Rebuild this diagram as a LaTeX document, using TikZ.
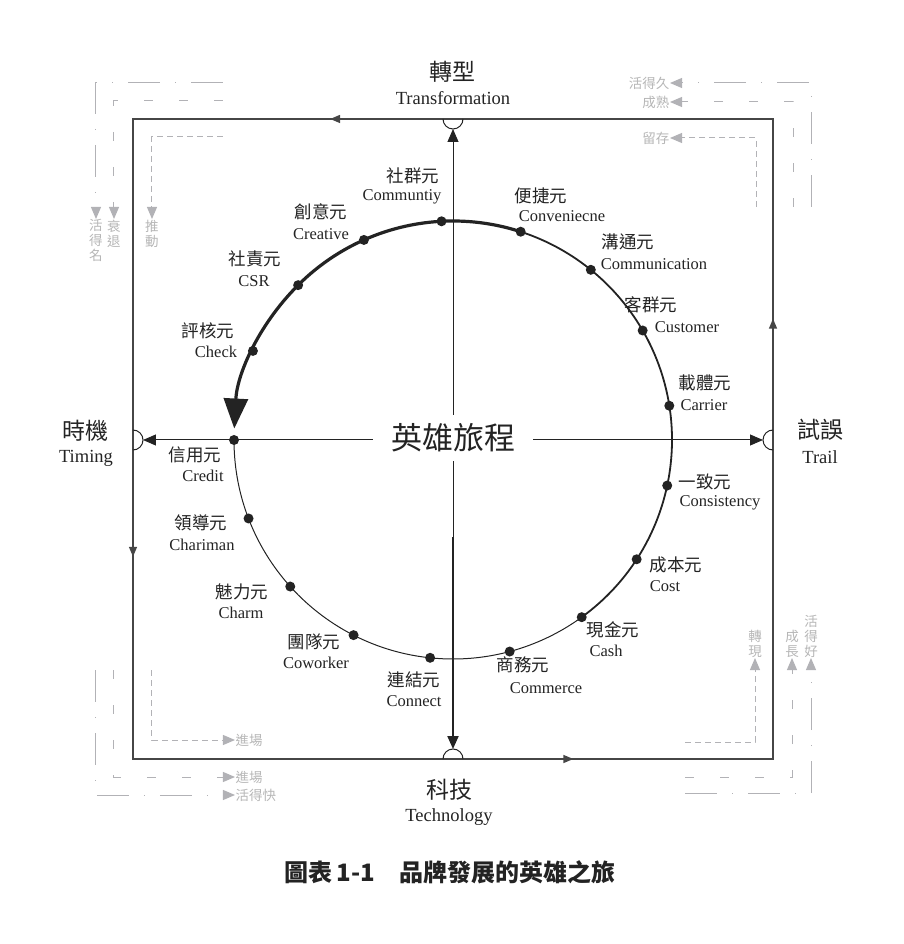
\documentclass[tikz,border=0pt]{standalone}
\usepackage{fontspec}
\setmainfont{Liberation Serif}
\newfontfamily\cjk{Noto Sans CJK TC}
\usetikzlibrary{arrows.meta,positioning,decorations.markings}
\definecolor{hjink}{RGB}{35,35,35}
\definecolor{hjframe}{RGB}{70,70,70}
\definecolor{hjgray}{RGB}{178,178,182}
\definecolor{hjtext}{RGB}{182,182,182}

\begin{document}
\begin{tikzpicture}[x=1pt, y=1pt, >={Triangle[length=13pt,width=11pt]},
  zh/.style={font=\cjk\fontsize{17.5}{18}\selectfont, inner sep=0pt, text=hjink},
  en/.style={font=\fontsize{16.5}{17}\selectfont, inner sep=0pt, text=hjink},
  axzh/.style={font=\cjk\fontsize{23}{24}\selectfont, inner sep=0pt, text=hjink},
  axen/.style={font=\fontsize{18.5}{19}\selectfont, inner sep=0pt, text=hjink},
  dot/.style={circle, fill=hjink, inner sep=0pt, minimum size=10pt},
  flow/.style={draw=hjgray, line width=1pt, -{Triangle[length=12pt,width=10pt]}},
  outerflow/.style={flow, dash pattern=on 32pt off 15pt on 1pt off 15pt},
  midflow/.style={flow, dash pattern=on 9pt off 26pt},
  innerflow/.style={flow, dash pattern=on 6pt off 4pt},
  gtag/.style={font=\cjk\fontsize{13.5}{15}\selectfont, text=hjtext,
    inner sep=0.5pt, align=center}]
\useasboundingbox (-453,440) rectangle (450,-504);

% frame with its four running arrows
\draw[hjframe, line width=1.5pt, postaction={decorate}, decoration={markings,
    mark=at position 0.173 with {\arrow{Triangle[length=10pt,width=8pt]}},
    mark=at position 0.421 with {\arrow{Triangle[length=10pt,width=8pt]}},
    mark=at position 0.672 with {\arrow{Triangle[length=10pt,width=8pt]}},
    mark=at position 0.922 with {\arrow{Triangle[length=10pt,width=8pt]}}}]
  (320,321) -- (-320,321) -- (-320,-319) -- (320,-319) -- cycle;

% half rings on the frame
\draw[hjink, line width=1pt] (-10,321) arc[start angle=180, end angle=360, radius=10];
\draw[hjink, line width=1pt] (-10,-319) arc[start angle=180, end angle=0, radius=10];
\draw[hjink, line width=1pt] (-320,-10) arc[start angle=-90, end angle=90, radius=10];
\draw[hjink, line width=1pt] (320,-10) arc[start angle=270, end angle=90, radius=10];
\coordinate (ringN) at (0,311);
\coordinate (ringS) at (0,-309);
\coordinate (ringW) at (-310,0);
\coordinate (ringE) at (310,0);

% the ring of elements
\draw[hjink, line width=1pt] (180:219) arc[start angle=180, end angle=306, radius=219];
\draw[hjink, line width=1.8pt] (-54:219) arc[start angle=-54, end angle=72, radius=219];
\draw[hjink, line width=3.2pt, -{Triangle[length=30pt,width=24pt]}]
  (72:219) arc[start angle=72, end angle=177, radius=219];

% centre and axes
\node[font=\cjk\fontsize{31}{32}\selectfont, text=hjink, fill=white,
  inner xsep=18pt, inner ysep=9pt] (hero) at (0,2) {英雄旅程};
\coordinate (stem) at (0,-97);
\draw[hjink, line width=1pt, ->] (hero.north) -- (ringN);
\draw[hjink, line width=1pt, ->] (hero.west |- ringW) -- (ringW);
\draw[hjink, line width=1pt, ->] (hero.east |- ringE) -- (ringE);
\draw[hjink, line width=1pt] (hero.south) -- (stem);
\draw[hjink, line width=2pt, ->] (stem) -- (ringS);

\node[axen] (transEn) at (0,342) {Transformation};
\node[axzh] (trans) at (-1,368) {轉型};
\node[axen] (timeEn) at (-367,-18) {Timing};
\node[axzh] (time) at (-367,9) {時機};
\node[axen] (trialEn) at (367,-17) {Trail};
\node[axzh] (trial) at (367,10) {試誤};
\node[axen] (techEn) at (-4,-377) {Technology};
\node[axzh] (tech) at (-4,-350) {科技};

% elements: angle / name / english / name pos / english pos
\foreach \a/\zhname/\enname/\zx/\zy/\ex/\ey [count=\i] in {
   93/社群元/Communtiy/-40/264/-51/243,
   72/便捷元/Conveniecne/88/244/109/224,
   51/溝通元/Communication/175/198/201/176,
   30/客群元/Customer/198/135/234/113,
    9/載體元/Carrier/252/57/251/35,
  -12/一致元/Consistency/252/-42/267/-63,
  -33/成本元/Cost/223/-125/212/-146,
  -54/現金元/Cash/160/-190/153/-211,
  -75/商務元/Commerce/70/-225/93/-248,
  -96/連結元/Connect/-39/-240/-39/-261,
 -117/團隊元/Coworker/-139/-202/-137/-223,
 -138/魅力元/Charm/-211/-152/-212/-173,
 -159/領導元/Chariman/-252/-83/-251/-105,
  180/信用元/Credit/-258/-15/-250/-36,
  156/評核元/Check/-245/109/-237/88,
  135/社責元/CSR/-198/181/-199/159,
  114/創意元/Creative/-132/228/-132/206} {
  \node[dot] (d\i) at (\a:219) {};
  \node[zh] (z\i) at (\zx,\zy) {\zhname};
  \node[en] (e\i) at (\ex,\ey) {\enname};
}

% grey life-cycle flows in the corners
\node[gtag, anchor=north] (fame) at (-357,221) {活\\得\\名};
\node[gtag, anchor=north] (decline) at (-339,221) {衰\\退};
\node[gtag, anchor=north] (push) at (-301,221) {推\\動};
\coordinate (fameS) at (-230,357);
\coordinate (declineS) at (-230,339);
\coordinate (pushS) at (-230,303);
\draw[outerflow] (fameS) -| (fame);
\draw[midflow] (declineS) -| (decline);
\draw[innerflow] (pushS) -| (push);

\node[gtag, anchor=east] (long) at (217,357) {活得久};
\node[gtag, anchor=east] (mature) at (217,338) {成熟};
\node[gtag, anchor=east] (keep) at (217,302) {留存};
\coordinate (longS) at (358,233);
\coordinate (matureS) at (340,233);
\coordinate (keepS) at (303,233);
\draw[outerflow] (longS) |- (long);
\draw[midflow] (matureS) |- (mature);
\draw[innerflow] (keepS) |- (keep);

\node[gtag, anchor=west] (fast) at (-218,-355) {活得快};
\node[gtag, anchor=west] (enter) at (-218,-337) {進場};
\node[gtag, anchor=west] (enterIn) at (-218,-300) {進場};
\coordinate (fastS) at (-357,-230);
\coordinate (enterS) at (-339,-230);
\coordinate (enterInS) at (-301,-230);
\draw[outerflow] (fastS) |- (fast);
\draw[midflow] (enterS) |- (enter);
\draw[innerflow] (enterInS) |- (enterIn);

\node[gtag, anchor=south] (well) at (358,-218) {活\\得\\好};
\node[gtag, anchor=south] (grow) at (339,-218) {成\\長};
\node[gtag, anchor=south] (cash) at (302,-218) {轉\\現};
\coordinate (wellS) at (232,-353);
\coordinate (growS) at (232,-337);
\coordinate (cashS) at (232,-302);
\draw[outerflow] (wellS) -| (well);
\draw[midflow] (growS) -| (grow);
\draw[innerflow] (cashS) -| (cash);

% caption
\node[font=\cjk\bfseries\fontsize{24}{26}\selectfont, text=hjink] (caption)
  at (-3,-432) {圖表\,1-1\hspace{24pt}品牌發展的英雄之旅};
\end{tikzpicture}
\end{document}
